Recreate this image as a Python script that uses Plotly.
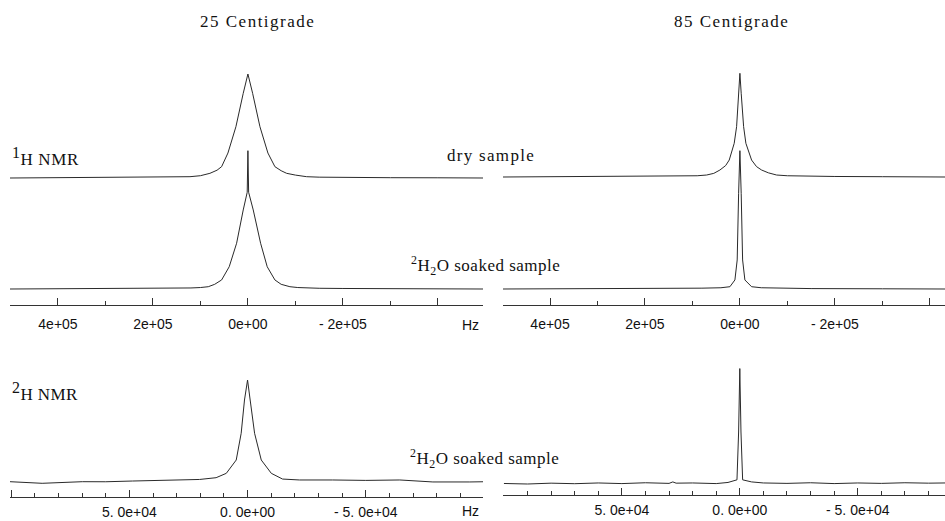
import plotly.graph_objects as go

# ---------------- data (frequency offset in Hz, relative intensity) ----------------
# 1H NMR, 25 C, dry sample
h1_25_dry_hz = [501000, 400000, 300000, 200000, 150000, 122000, 100000, 80000, 65000, 55400,
                42100, 25300, 9900, 0, -9900, -25300, -42100, -56800, -70000, -81500,
                -100000, -123600, -150000, -200000, -300000, -400000, -495000]
h1_25_dry_i = [0.0, 0.002, 0.004, 0.006, 0.008, 0.0125, 0.022, 0.045, 0.075, 0.109,
               0.24, 0.493, 0.814, 1.0, 0.814, 0.493, 0.24, 0.109, 0.07, 0.045,
               0.028, 0.0125, 0.008, 0.005, 0.003, 0.002, 0.0]

# 1H NMR, 25 C, 2H2O soaked sample
h1_25_wet_hz = [501000, 300000, 200000, 150000, 120000, 100000, 83500, 70000, 55400, 39400,
                23800, 9900, 1500, 0, -1500, -11200, -26700, -40600, -56800, -70000,
                -88400, -105000, -125000, -150000, -200000, -300000, -495000]
h1_25_wet_i = [0.0, 0.003, 0.005, 0.007, 0.010, 0.014, 0.022, 0.045, 0.087, 0.214,
               0.44, 0.76, 0.93, 1.33, 0.93, 0.76, 0.44, 0.214, 0.087, 0.045,
               0.022, 0.014, 0.010, 0.007, 0.005, 0.003, 0.0]

# 1H NMR, 85 C, dry sample
h1_85_dry_hz = [499000, 400000, 300000, 200000, 120000, 90000, 70100, 55000, 42100, 30000,
                22500, 12000, 6950, 2700, 0, -2700, -7800, -12600, -24600, -35000,
                -45700, -60000, -77300, -100000, -130000, -200000, -300000, -432000]
h1_85_dry_i = [0.0, 0.002, 0.003, 0.005, 0.008, 0.012, 0.019, 0.035, 0.067, 0.11,
               0.163, 0.324, 0.484, 0.805, 0.997, 0.805, 0.484, 0.324, 0.163, 0.10,
               0.067, 0.04, 0.019, 0.012, 0.008, 0.005, 0.003, 0.0]

# 1H NMR, 85 C, 2H2O soaked sample
h1_85_wet_hz = [499000, 300000, 150000, 80000, 40000, 21000, 10500, 5700, 2700, 0,
                -2700, -5700, -10500, -24600, -45000, -80000, -150000, -300000, -432000]
h1_85_wet_i = [0.0, 0.002, 0.004, 0.008, 0.012, 0.022, 0.087, 0.279, 0.92, 1.33,
               0.92, 0.279, 0.087, 0.022, 0.012, 0.008, 0.004, 0.002, 0.0]

# 2H NMR, 25 C, 2H2O soaked sample
h2_25_hz = [100500, 86900, 69900, 60000, 48700, 40000, 27500, 20300, 13300, 9000,
            4800, 2700, 1300, 0, -1100, -2970, -5800, -10050, -14800, -22000,
            -36000, -50000, -64400, -78400, -94000, -99600]
h2_25_i = [0.0125, -0.003, 0.0125, 0.012, 0.019, 0.025, 0.030, 0.034, 0.051, 0.093,
           0.221, 0.478, 0.798, 0.99, 0.798, 0.478, 0.221, 0.093, 0.038, 0.029,
           0.029, 0.025, 0.029, 0.010, 0.010, 0.012]

# 2H NMR, 85 C, 2H2O soaked sample
h2_85_hz = [100000, 90000, 80000, 70000, 60000, 50000, 40000, 30000, 28400, 27000,
            20000, 10000, 5000, 1200, 500, 0, -500, -1200, -5000, -10000,
            -20000, -30000, -40000, -50000, -60000, -70000, -80000, -87000]
h2_85_i = [0.005, 0.0, 0.008, 0.003, 0.010, 0.004, 0.012, 0.006, 0.020, 0.008,
           0.010, 0.004, 0.015, 0.040, 0.50, 1.11, 0.50, 0.040, 0.020, 0.010,
           0.006, 0.012, 0.004, 0.010, 0.006, 0.012, 0.008, 0.010]

# ---------------- ticks ----------------
top_tickvals = [400000, 200000, 0, -200000, -400000]
top_ticktext = ["4e+05", "2e+05", "0e+00", "- 2e+05", ""]
bot_tickvals = [100000, 50000, 0, -50000, -100000]
bot_ticktext = ["", "5. 0e+04", "0. 0e+00", "- 5. 0e+04", ""]

# ---------------- layout helpers ----------------
W, H = 945, 521
UNIT = 104.0  # pixels per intensity unit


def fx(px):
    return px / W


def fy(py):
    return 1 - py / H


LINE = dict(color="#2a2a2a", width=1)
SERIF = "Liberation Serif, Times New Roman, serif"
SANS = "Liberation Sans, Arial, sans-serif"

fig = go.Figure()

# (x data, y data, xaxis, yaxis, baseline px, top px, bottom px)
spectra = [
    (h1_25_dry_hz, h1_25_dry_i, "x", "y", 178, 60, 200),
    (h1_25_wet_hz, h1_25_wet_i, "x", "y2", 289, 140, 305),
    (h1_85_dry_hz, h1_85_dry_i, "x2", "y3", 177, 60, 200),
    (h1_85_wet_hz, h1_85_wet_i, "x2", "y4", 289, 140, 305),
    (h2_25_hz, h2_25_i, "x3", "y5", 483, 350, 497),
    (h2_85_hz, h2_85_i, "x4", "y6", 484, 350, 495),
]

layout = dict(
    width=W, height=H,
    margin=dict(l=0, r=0, t=0, b=0, autoexpand=False),
    paper_bgcolor="white",
    plot_bgcolor="rgba(0,0,0,0)",
    showlegend=False,
)

for xs, ys, xa, ya, base, top, bot in spectra:
    fig.add_trace(go.Scatter(x=xs, y=ys, xaxis=xa, yaxis=ya, mode="lines",
                             line=LINE, hoverinfo="skip"))
    key = "yaxis" if ya == "y" else "yaxis" + ya[1:]
    layout[key] = dict(
        domain=[fy(bot), fy(top)],
        range=[-(bot - base) / UNIT, (base - top) / UNIT],
        visible=False, fixedrange=True,
    )


def xaxis(domain_px, rng, anchor, tickvals, ticktext, minor_dtick, standoff):
    return dict(
        domain=[fx(domain_px[0]), fx(domain_px[1])],
        range=rng, anchor=anchor,
        showline=True, linecolor="#333333", linewidth=1,
        ticks="inside", ticklen=7, tickcolor="#333333", tickwidth=1,
        tickmode="array", tickvals=tickvals, ticktext=ticktext,
        tickfont=dict(family=SANS, size=14, color="#111111"),
        ticklabelstandoff=standoff,
        minor=dict(ticks="inside", ticklen=4, dtick=minor_dtick, tick0=0,
                   tickcolor="#333333", showgrid=False),
        showgrid=False, zeroline=False, fixedrange=True,
    )


layout["xaxis"] = xaxis((10, 483), [501000, -495000], "y2", top_tickvals, top_ticktext, 100000, 6)
layout["xaxis2"] = xaxis((503, 945), [499000, -432000], "y4", top_tickvals, top_ticktext, 100000, 6)
layout["xaxis3"] = xaxis((10, 483), [100500, -99600], "y5", bot_tickvals, bot_ticktext, 10000, 2)
layout["xaxis4"] = xaxis((503, 945), [100400, -87000], "y6", bot_tickvals, bot_ticktext, 10000, 2)


def ann(text, px, py, size=17, family=SERIF, xanchor="center", spacing=None):
    if spacing is not None:
        text = '<span style="letter-spacing:%spx">%s</span>' % (spacing, text)
    return dict(text=text, x=fx(px), y=fy(py), xref="paper", yref="paper",
                xanchor=xanchor, yanchor="middle", showarrow=False,
                font=dict(family=family, size=size, color="#111111"))


BIG1 = '<sup><span style="font-size:16px">1</span></sup>'
BIG2 = '<sup><span style="font-size:16px">2</span></sup>'

layout["annotations"] = [
    ann("25 Centigrade", 257, 21, 17, spacing=1.5),
    ann("85 Centigrade", 731, 21, 17, spacing=1.5),
    ann(BIG1 + "H NMR", 10, 157, 17, xanchor="left", spacing=0.6),
    ann("dry sample", 491, 155, 17, spacing=1.3),
    ann("<sup>2</sup>H<sub>2</sub>O soaked sample", 485, 265, 17, spacing=0.5),
    ann(BIG2 + "H NMR", 10, 391, 17, xanchor="left", spacing=0.4),
    ann("<sup>2</sup>H<sub>2</sub>O soaked sample", 484, 458, 17, spacing=0.5),
    ann("Hz", 470, 325, 14, family=SANS),
    ann("Hz", 470, 511, 14, family=SANS),
]

fig.update_layout(**layout)
fig.write_html("out.html", config={"displayModeBar": False},
               post_script="document.body.style.margin='0px';")
